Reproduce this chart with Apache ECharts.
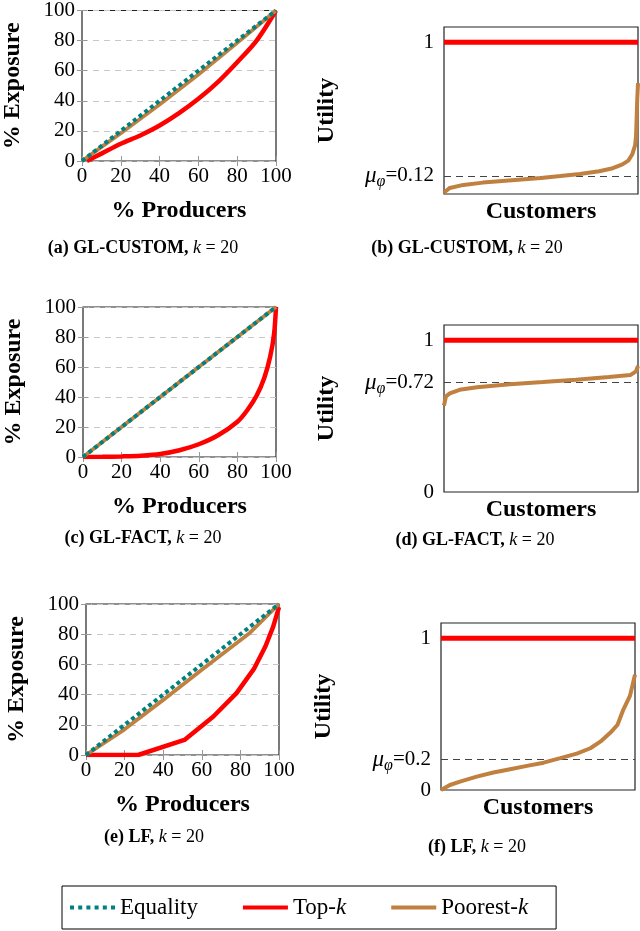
<!DOCTYPE html>
<html><head><meta charset="utf-8">
<script src="https://cdn.jsdelivr.net/npm/echarts@6/dist/echarts.min.js"></script>
<style>html,body{margin:0;padding:0;background:#fff}#c{width:640px;height:931px}</style>
</head><body><div id="c"></div>
<script>
// ---- data ----
const pctTicks = [0, 20, 40, 60, 80, 100];
const equality = [[0, 0], [100, 100]];

// (a) GL-CUSTOM Lorenz
const aTopK = [[2.5,0],[10,4.9],[20,11.5],[30,17],[40,23.6],[50,31.8],[60,41.3],[70,52.4],[80,65.6],[90,80],[100,100]];
const aPoorest = [[0,0],[20,18.5],[40,37.5],[60,57.5],[80,78.5],[100,100]];
// (c) GL-FACT Lorenz
const cTopK = [[0,0],[10,0.1],[20,0.4],[30,0.9],[40,2],[50,4.5],[60,8.5],[70,14.5],[80,23.5],[85,31],[90,41],[94,53],[97,67],[99,82],[100,100]];
const cPoorest = [[0,0],[100,100]];
// (e) LF Lorenz
const eTopK = [[0,0],[27,0],[51,10],[66,25.5],[78,41],[87,57],[93,72],[97,85],[100,98]];
const ePoorest = [[0,0],[20,17],[40,36.5],[60,56.5],[85,81],[100,100]];

// utility curves (x = % of customers sorted)
const topKUtility = [[0,1],[100,1]];
const bPoorest = [[0,0.005],[1,0.02],[3,0.04],[10,0.06],[20,0.075],[30,0.085],[40,0.095],[50,0.105],[60,0.118],[70,0.132],[80,0.15],[87,0.17],[92,0.195],[95,0.22],[97,0.26],[98.5,0.32],[99,0.38],[99.3,0.5],[99.6,0.62],[100,0.73]];
const dPoorest = [[0,0.57],[1,0.63],[3,0.65],[8,0.673],[17,0.69],[34,0.71],[51,0.724],[68,0.74],[85,0.757],[96,0.77],[99,0.795],[100,0.83]];
const fPoorest = [[0,0],[4.6,0.033],[9.8,0.055],[18.4,0.088],[27,0.115],[35.6,0.137],[44.3,0.159],[52.9,0.18],[61.5,0.21],[70,0.24],[77,0.275],[82.3,0.32],[87.5,0.38],[91,0.43],[94,0.53],[97.4,0.62],[100,0.76]];
const muValues = [0.12, 0.72, 0.2];
const muLabels = ['0.12', '0.72', '0.2'];

const captionTags = ['(a)', '(b)', '(c)', '(d)', '(e)', '(f)'];
const captionMethods = ['GL-CUSTOM', 'GL-CUSTOM', 'GL-FACT', 'GL-FACT', 'LF', 'LF'];
const kValue = 20;
const legendNames = ['Equality', 'Top-k', 'Poorest-k'];

// ---- layout/styles ----
const FONT = 'Liberation Serif';
const C_EQ = '#008080', C_TOP = '#ff0000', C_POOR = '#bf8040';
const TITLE_SIZE = 24, TICK_SIZE = 21;
const grids = [
  {left: 82, top: 7, width: 194, height: 154},
  {left: 444, top: 27, width: 194, height: 167},
  {left: 83, top: 307, width: 193, height: 150},
  {left: 444, top: 325, width: 194, height: 167},
  {left: 86, top: 604, width: 193, height: 151},
  {left: 441, top: 623, width: 194, height: 167}
];
const captionPos = [[143, 248], [467, 248], [143, 538], [475, 540], [154, 837], [477, 847]];

const xAxes = [], yAxes = [], series = [];
const tickStyle = {inside: true, length: 5, lineStyle: {color: '#999', width: 1}};
const titleStyle = {fontFamily: FONT, fontWeight: 'bold', fontSize: TITLE_SIZE, color: '#000'};

function addLorenz(g, topK, poorest) {
  const xi = xAxes.length, yi = yAxes.length;
  xAxes.push({type: 'value', gridIndex: g, min: 0, max: 100, interval: 20, position: 'bottom',
    name: '% Producers', nameLocation: 'middle', nameGap: 38, nameTextStyle: titleStyle,
    axisLine: {show: false}, axisTick: tickStyle,
    axisLabel: {fontFamily: FONT, fontSize: TICK_SIZE, color: '#000', margin: 5},
    splitLine: {show: false}});
  xAxes.push({type: 'value', gridIndex: g, min: 0, max: 100, interval: 20, position: 'top',
    axisLine: {show: false}, axisTick: tickStyle, axisLabel: {show: false}, splitLine: {show: false}});
  yAxes.push({type: 'value', gridIndex: g, min: 0, max: 100, interval: 20, position: 'left',
    name: '% Exposure', nameLocation: 'middle', nameGap: 57, nameTextStyle: titleStyle,
    axisLine: {show: false}, axisTick: tickStyle,
    axisLabel: {fontFamily: FONT, fontSize: TICK_SIZE, color: '#000', margin: 7},
    splitLine: {show: true, lineStyle: {color: '#c8c8c8', type: [6, 5], width: 1}}});
  yAxes.push({type: 'value', gridIndex: g, min: 0, max: 100, interval: 20, position: 'right',
    axisLine: {show: false}, axisTick: tickStyle, axisLabel: {show: false}, splitLine: {show: false}});
  const smooth = g !== 4 ? 0.3 : false;
  series.push({type: 'line', name: 'Top-k', xAxisIndex: xi, yAxisIndex: yi, data: topK, showSymbol: false, symbol: 'none',
    smooth: smooth, lineStyle: {color: C_TOP, width: 4.5}, itemStyle: {color: C_TOP}, z: 2});
  series.push({type: 'line', name: 'Poorest-k', xAxisIndex: xi, yAxisIndex: yi, data: poorest, showSymbol: false, symbol: 'none',
    lineStyle: {color: C_POOR, width: 3.8}, itemStyle: {color: C_POOR}, z: 3});
  series.push({type: 'line', name: 'Equality', xAxisIndex: xi, yAxisIndex: yi, data: equality, showSymbol: false, symbol: 'none',
    lineStyle: {color: C_EQ, width: 4, type: [4, 3.2], cap: 'butt'}, itemStyle: {color: C_EQ}, z: 4});
}

function addUtility(g, poorest, mu, muText) {
  const xi = xAxes.length, yi = yAxes.length;
  xAxes.push({type: 'value', gridIndex: g, min: 0, max: 100,
    name: 'Customers', nameLocation: 'middle', nameGap: 6, nameTextStyle: titleStyle,
    axisLine: {show: false}, axisTick: {show: false}, axisLabel: {show: false}, splitLine: {show: false}});
  yAxes.push({type: 'value', gridIndex: g, min: 0, max: 1.1,
    name: 'Utility', nameLocation: 'middle', nameGap: 105, nameTextStyle: titleStyle,
    axisLine: {show: false}, axisTick: {show: false}, splitLine: {show: false},
    axisLabel: {customValues: [0, mu, 1], margin: 10, color: '#000', fontFamily: FONT, fontSize: TICK_SIZE,
      formatter: v => Math.abs(v - mu) < 1e-9 ? '{m|μ}{s|φ}{n|=' + muText + '}' : String(v),
      rich: {
        m: {fontFamily: FONT, fontStyle: 'italic', fontSize: 23, color: '#000'},
        s: {fontFamily: FONT, fontStyle: 'italic', fontSize: 16, color: '#000', padding: [13, 0, 0, 0]},
        n: {fontFamily: FONT, fontSize: 21, color: '#000'}
      }}});
  series.push({type: 'line', name: 'Top-k', xAxisIndex: xi, yAxisIndex: yi, data: topKUtility, showSymbol: false, symbol: 'none',
    lineStyle: {color: C_TOP, width: 5}, itemStyle: {color: C_TOP}, z: 3});
  series.push({type: 'line', name: 'Poorest-k', xAxisIndex: xi, yAxisIndex: yi, data: poorest, showSymbol: false, symbol: 'none',
    smooth: false, lineStyle: {color: C_POOR, width: 4}, itemStyle: {color: C_POOR}, z: 3,
    markLine: {silent: true, symbol: 'none', label: {show: false}, z: 2,
      lineStyle: {color: '#444', type: [7, 5], width: 1.2}, data: [{yAxis: mu}]}});
}

addLorenz(0, aTopK, aPoorest);
addUtility(1, bPoorest, muValues[0], muLabels[0]);
addLorenz(2, cTopK, cPoorest);
addUtility(3, dPoorest, muValues[1], muLabels[1]);
addLorenz(4, eTopK, ePoorest);
addUtility(5, fPoorest, muValues[2], muLabels[2]);

const CAP = 18;
const graphics = captionPos.map((p, i) => ({
  type: 'text', x: p[0], y: p[1],
  style: {
    text: '{b|' + captionTags[i] + ' ' + captionMethods[i] + ', }{i|k}{n| = ' + kValue + '}',
    align: 'center', verticalAlign: 'middle',
    rich: {
      b: {fontFamily: FONT, fontWeight: 'bold', fontSize: CAP, fill: '#000'},
      i: {fontFamily: FONT, fontStyle: 'italic', fontSize: CAP, fill: '#000'},
      n: {fontFamily: FONT, fontSize: CAP, fill: '#000'}
    }
  }
}));

// legend icons (line samples), dotted one for Equality
const dotIcon = 'path://M0,0h4v4h-4z M8.2,0h4v4h-4z M16.4,0h4v4h-4z M24.6,0h4v4h-4z M32.8,0h4v4h-4z M41,0h4v4h-4z';
const lineIcon = 'path://M0,0h45v4h-45z';

const chart = echarts.init(document.getElementById('c'));
chart.setOption({
  animation: false,
  backgroundColor: '#fff',
  grid: grids.map(g => Object.assign({show: true, borderColor: '#222', borderWidth: 1.2, backgroundColor: 'transparent'}, g)),
  xAxis: xAxes,
  yAxis: yAxes,
  series: series,
  legend: {
    data: [
      {name: legendNames[0], icon: dotIcon, itemStyle: {color: C_EQ}},
      {name: legendNames[1], icon: lineIcon, itemStyle: {color: C_TOP}},
      {name: legendNames[2], icon: lineIcon, itemStyle: {color: C_POOR}}
    ],
    left: 62, top: 886, itemWidth: 45, itemHeight: 4, itemGap: 45,
    padding: [10, 28, 10, 8], borderColor: '#000', borderWidth: 1,
    formatter: n => n.replace('-k', '-{i|k}'),
    textStyle: {fontFamily: FONT, fontSize: 23, color: '#000',
      rich: {i: {fontFamily: FONT, fontStyle: 'italic', fontSize: 23, color: '#000'}}}
  },
  graphic: graphics
});
</script>
</body></html>
